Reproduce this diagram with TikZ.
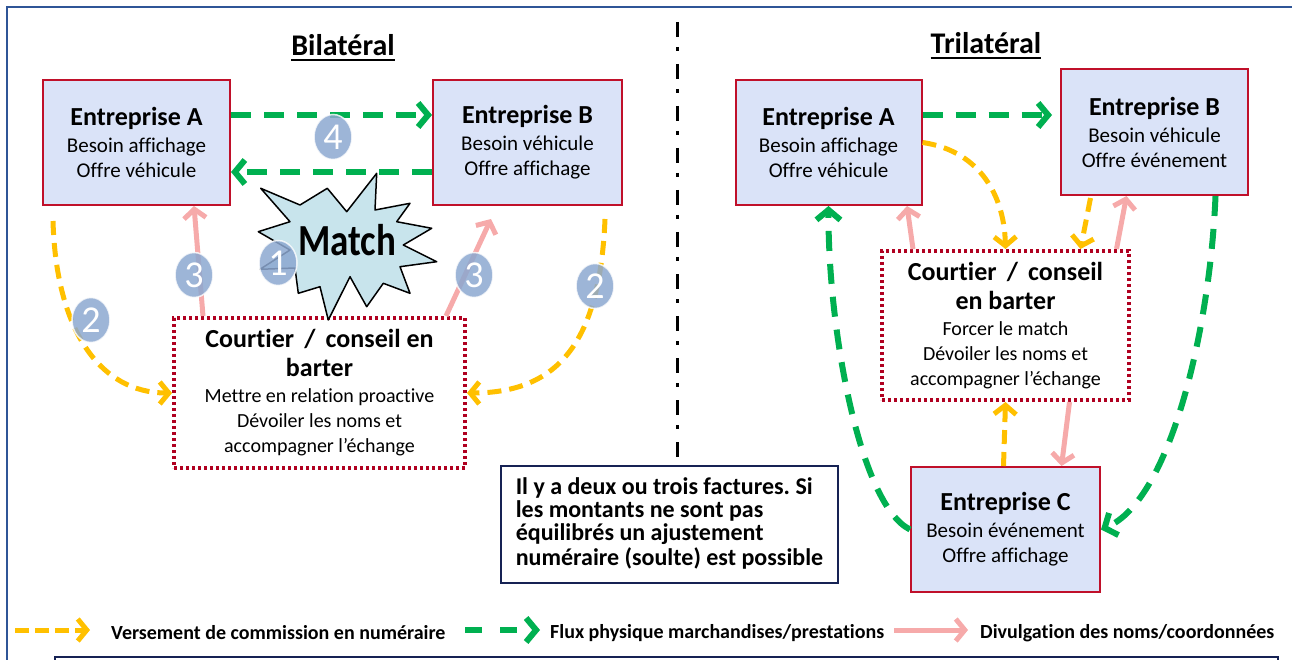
\documentclass[tikz,border=0pt]{standalone}
\usepackage{fontspec}
\setmainfont{Carlito}[Ligatures=NoCommon]
\frenchspacing
\usetikzlibrary{arrows.meta,shapes.geometric,calc}
\definecolor{boxfill}{RGB}{218,227,248}
\definecolor{boxred}{RGB}{192,16,42}
\definecolor{dotred}{RGB}{176,0,32}
\definecolor{grn}{RGB}{0,176,80}
\definecolor{yel}{RGB}{255,192,0}
\definecolor{pnk}{RGB}{246,170,170}
\definecolor{circ}{RGB}{140,168,208}
\definecolor{starfill}{RGB}{200,228,236}
\definecolor{frameblue}{RGB}{47,85,151}
\definecolor{navy}{RGB}{22,34,84}
\newcommand{\bxtitle}[1]{{\fontsize{26}{26}\selectfont\bfseries #1}}
\tikzset{
  ent/.style={draw=boxred, line width=2pt, fill=boxfill, align=center, inner sep=0pt,
    font=\fontsize{21}{25}\selectfont},
  broker/.style={draw=dotred, line width=4pt, dash pattern=on 3pt off 3pt, fill=white,
    align=center, inner sep=0pt, font=\fontsize{20}{25}\selectfont},
  greenarrow/.style={draw=grn, line width=6pt, dash pattern=on 20pt off 13pt,
    -{Straight Barb[length=10pt,width=24pt]}},
  yellowarrow/.style={draw=yel, line width=5pt, dash pattern=on 14pt off 8pt,
    -{Straight Barb[length=9pt,width=22pt]}},
  pinkarrow/.style={draw=pnk, line width=5pt, -{Straight Barb[length=9pt,width=22pt]}},
  num/.style={ellipse, fill=circ, fill opacity=0.85, text opacity=1, text=white,
    draw=white, draw opacity=0.8, line width=1.5pt,
    minimum width=38pt, minimum height=45pt, inner sep=0pt, font=\fontsize{38}{38}\selectfont},
  title/.style={font=\fontsize{30}{30}\selectfont\bfseries, inner sep=0pt, anchor=base},
  legendtext/.style={font=\fontsize{20}{20}\selectfont\bfseries, inner sep=0pt, anchor=west},
}
\begin{document}
\begin{tikzpicture}[x=1pt,y=-1pt]
\useasboundingbox (0,0) rectangle (1292,660);
\clip (0,0) rectangle (1292,660);
% frame
\draw[frameblue, line width=2pt] (7,7) rectangle (1310,720);
\draw[navy, line width=2.5pt] (55,657) rectangle (1278,720);
% divider
\draw[line width=3pt, dash pattern=on 15pt off 10pt on 4pt off 13pt] (677,22) -- (677,462);
% titles
\node[title] (tb) at (343,56) {Bilatéral};
\draw[line width=2.5pt] ([yshift=-4pt]tb.base west) -- ([yshift=-4pt]tb.base east);
\node[title] (tt) at (986,54) {Trilatéral};
\draw[line width=2.5pt] ([yshift=-4pt]tt.base west) -- ([yshift=-4pt]tt.base east);

% ---------- Bilateral ----------
\node[ent, minimum width=187pt, minimum height=125pt] (LA) at (136.5,142.5)
  {\bxtitle{Entreprise A}\\[2pt]Besoin affichage\\Offre véhicule};
\node[ent, minimum width=189pt, minimum height=125pt] (LB) at (527.5,142.5)
  {\bxtitle{Entreprise B}\\[2pt]Besoin véhicule\\Offre affichage};
\node[broker, minimum width=291pt, minimum height=150pt] (LC) at (319.5,393)
  {\bxtitle{Courtier \,/\, conseil en}\\[4pt]\bxtitle{barter}\\[1pt]Mettre en relation proactive\\Dévoiler les noms et\\accompagner l’échange};

\draw[greenarrow] ([yshift=27.5pt]LA.east) -- ([yshift=27.5pt]LB.west);
\draw[greenarrow] ([yshift=-29.5pt]LB.west) -- ([yshift=-29.5pt]LA.east);
\draw[yellowarrow] ([xshift=-83.5pt,yshift=-15pt]LA.south) .. controls (56,330) and (100,393) .. (LC.west);
\draw[yellowarrow] ([xshift=77.5pt,yshift=-13pt]LB.south) .. controls (600,340) and (560,393) .. (LC.east);
\draw[pinkarrow] ([xshift=-116.5pt]LC.north) -- ([xshift=57.5pt]LA.south);
\draw[pinkarrow] ([xshift=126.5pt]LC.north) -- ([xshift=-36.5pt,yshift=-13pt]LB.south);

% Match star
\draw[fill=starfill, draw=black, line width=1.5pt, line join=round]
  (260.7,188.3) -- (300,205) -- (327.3,188.3) -- (346.7,211.7) -- (376.7,173.3) -- (375,210)
  -- (410,203.3) -- (396.7,221.7) -- (431.7,228.3) -- (403.3,245) -- (436.7,261.7) -- (400,266.7)
  -- (410,293.3) -- (383.3,283.3) -- (366.7,306.7) -- (350,276.7) -- (328.3,320) -- (320,286.7)
  -- (298.3,293.3) -- (295,268) -- (260,269.3) -- (290,250) -- (258.3,231.7) -- (290,221.7) -- cycle;
\node[font=\fontsize{37}{37}\selectfont\bfseries, inner sep=0pt] (match) at (347,240) {\scalebox{1}[1.2]{Match}};

\node[num] (c4) at (333,137) {4};
\node[num] (c1) at (278,263) {1};
\node[num] (c3a) at (194,275) {3};
\node[num] (c3b) at (474,275) {3};
\node[num] (c2a) at (91,320) {2};
\node[num] (c2b) at (595,286) {2};

% ---------- Trilateral ----------
\node[ent, minimum width=186pt, minimum height=125pt] (RA) at (828.5,142.5)
  {\bxtitle{Entreprise A}\\[2pt]Besoin affichage\\Offre véhicule};
\node[ent, minimum width=187pt, minimum height=126pt] (RB) at (1154.5,132)
  {\bxtitle{Entreprise B}\\[2pt]Besoin véhicule\\Offre événement};
\node[broker, minimum width=247pt, minimum height=149pt] (RC) at (1005.5,325.5)
  {\bxtitle{Courtier \,/\, conseil}\\[4pt]\bxtitle{en barter}\\[1pt]Forcer le match\\Dévoiler les noms et\\accompagner l’échange};
\node[ent, minimum width=189pt, minimum height=125pt] (RD) at (1005.5,529.5)
  {\bxtitle{Entreprise C}\\[2pt]Besoin événement\\Offre affichage};

\draw[greenarrow, shorten >=8pt] ([yshift=27.5pt]RA.east) -- ([yshift=17pt]RB.west);
\draw[yellowarrow] (RA.east) .. controls (975,150) and (1004,190) .. (RC.north);
\draw[yellowarrow] ([xshift=-64pt,yshift=-2pt]RB.south) -- ([xshift=75pt]RC.north);
\draw[pinkarrow] ([xshift=-92.5pt]RC.north) -- ([xshift=78.5pt]RA.south);
\draw[pinkarrow] ([xshift=111pt]RC.north) -- ([xshift=-28pt]RB.south);
\draw[pinkarrow] ([xshift=64pt]RC.south) -- ([xshift=56pt]RD.north);
\draw[yellowarrow] ([xshift=-2pt]RD.north) -- (RC.south);
\draw[greenarrow] (RD.west) .. controls (860,505) and (828,330) .. (RA.south);
\draw[greenarrow] ([xshift=61pt]RB.south) .. controls (1210,330) and (1170,500) .. (RD.east);

% note
\node[draw=navy, line width=2pt, fill=white, minimum width=337pt, minimum height=117pt,
  inner sep=0pt, font=\fontsize{24}{21.3}\selectfont\bfseries] (note) at (669.5,524.5)
  {\begin{tabular}{@{}l@{}}Il y a deux ou trois factures. Si\\les montants ne sont pas\\équilibrés un ajustement\\numéraire (soulte) est possible\end{tabular}};

% legend
\coordinate (ly1) at (15,630); \coordinate (ly2) at (90,630);
\coordinate (lg1) at (465,630); \coordinate (lg2) at (540,630);
\coordinate (lp1) at (894,630); \coordinate (lp2) at (968,630);
\draw[yellowarrow, dash pattern=on 14pt off 6pt] (ly1) -- (ly2);
\draw[greenarrow, dash pattern=on 17pt off 18pt] (lg1) -- (lg2);
\draw[pinkarrow] (lp1) -- (lp2);
\node[legendtext] (t1) at (111,633) {Versement de commission en numéraire};
\node[legendtext] (t2) at (550,633) {Flux physique marchandises/prestations};
\node[legendtext] (t3) at (980,633) {Divulgation des noms/coordonnées};
\end{tikzpicture}
\end{document}
